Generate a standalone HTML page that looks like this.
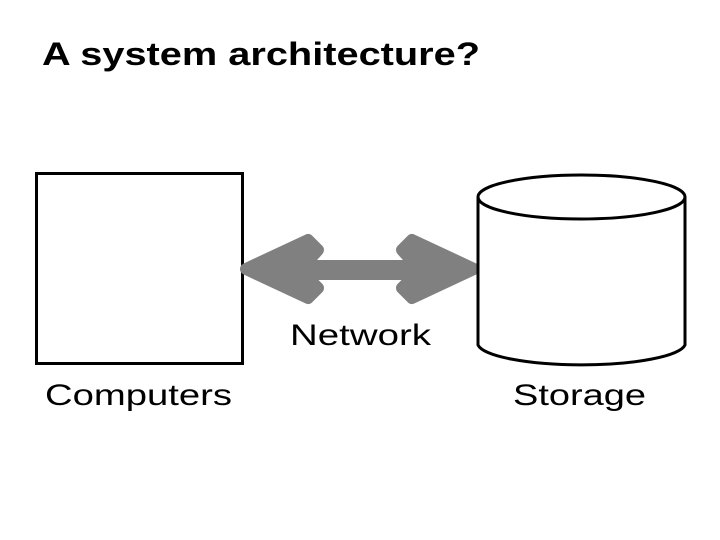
<!DOCTYPE html>
<html><head><meta charset="utf-8"><style>html,body{margin:0;padding:0;background:#fff}svg{display:block}</style></head>
<body>
<svg width="720" height="540" viewBox="0 0 720 540" xmlns="http://www.w3.org/2000/svg" font-family="Liberation Sans, Arial, sans-serif" font-weight="bold">
<rect width="720" height="540" fill="#fff"/>
<text x="42" y="65" font-size="32" textLength="438" lengthAdjust="spacingAndGlyphs">A system architecture?</text>
<rect x="36.5" y="173.5" width="206" height="190" fill="#fff" stroke="#000" stroke-width="3"/>
<g stroke="#808080" stroke-linecap="round" stroke-linejoin="round" fill="#808080">
<line x1="262" y1="270" x2="458" y2="270" stroke-width="20"/>
<polygon points="246,269 308,240 318,250 300,270 318,288 308,298" stroke-width="12"/>
<polygon points="474,269 412,240 402,250 420,270 402,288 412,298" stroke-width="12"/>
</g>
<path d="M478,197 L478,345 A104,22 0 0 0 685,345 L685,197" fill="#fff" stroke="#000" stroke-width="3"/>
<ellipse cx="581.5" cy="197" rx="103.5" ry="22" fill="#fff" stroke="#000" stroke-width="3"/>
<text x="290" y="345" font-size="30" font-weight="normal" textLength="141" lengthAdjust="spacingAndGlyphs">Network</text>
<text x="45" y="405" font-size="30" font-weight="normal" textLength="187" lengthAdjust="spacingAndGlyphs">Computers</text>
<text x="513" y="405" font-size="30" font-weight="normal" textLength="133" lengthAdjust="spacingAndGlyphs">Storage</text>
</svg>
</body></html>
